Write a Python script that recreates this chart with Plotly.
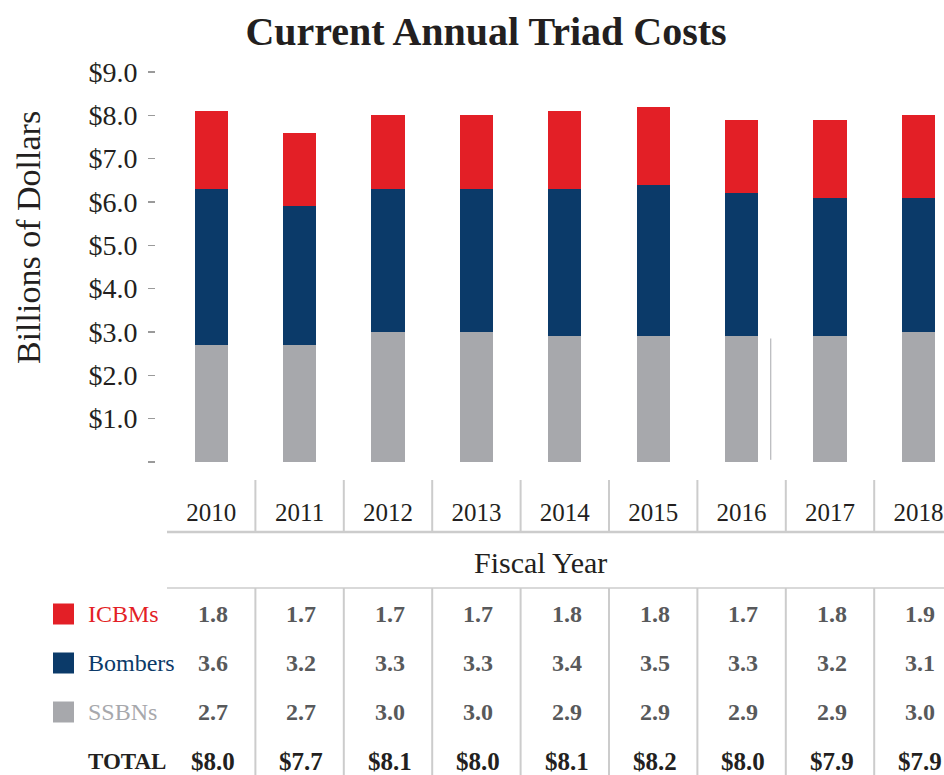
import plotly.graph_objects as go

# ---------------- data ----------------
years = ["2010", "2011", "2012", "2013", "2014", "2015", "2016", "2017", "2018"]
icbms = [1.8, 1.7, 1.7, 1.7, 1.8, 1.8, 1.7, 1.8, 1.9]
bombers = [3.6, 3.2, 3.3, 3.3, 3.4, 3.5, 3.3, 3.2, 3.1]
ssbns = [2.7, 2.7, 3.0, 3.0, 2.9, 2.9, 2.9, 2.9, 3.0]
totals = [8.0, 7.7, 8.1, 8.0, 8.1, 8.2, 8.0, 7.9, 7.9]
y_ticks = [0, 1, 2, 3, 4, 5, 6, 7, 8, 9]
y_ticktext = ["", "$1.0", "$2.0", "$3.0", "$4.0", "$5.0", "$6.0", "$7.0", "$8.0", "$9.0"]

series = [
    ("SSBNs", ssbns, "#a7a8ac"),
    ("Bombers", bombers, "#0b3a69"),
    ("ICBMs", icbms, "#e31f26"),
]

# ---------------- layout geometry (pixels) ----------------
W, H = 944, 775
L = 155          # y-axis line position
T = 60           # top of plot area
B = 462          # zero line
X0 = 167         # left edge of bar area
COL = 88.4       # pixel width of one category

FONT = "Liberation Serif"
DARK = "#231f20"
VALC = "#58595b"
SEP = "#cccccc"


def px(xpix):
    return (xpix - L) / (W - L)


def py(ypix):
    return (B - ypix) / (B - T)


x_hi = -0.5 + (W - X0) / COL
y_hi = (B - T) / ((B - 72) / 9.0)
xs = list(range(len(years)))

fig = go.Figure()
for name, vals, col in series:
    fig.add_trace(go.Bar(
        x=xs, y=vals, name=name, marker=dict(color=col, line=dict(width=0)),
        width=0.375, showlegend=False, hoverinfo="skip",
    ))

shapes = []
annotations = []

# thin gray stray line seen in the original between 2016 and 2017
shapes.append(dict(type="line", xref="x", yref="y", x0=6.33, x1=6.33, y0=0.05, y1=2.85,
                   line=dict(color="#a7a8ac", width=1)))

# column separators (year row and table rows)
for i in range(len(years) - 1):
    xd = i + 0.5
    shapes.append(dict(type="line", xref="x", yref="paper", x0=xd, x1=xd,
                       y0=py(480), y1=py(532), line=dict(color=SEP, width=2)))
    shapes.append(dict(type="line", xref="x", yref="paper", x0=xd, x1=xd,
                       y0=py(588), y1=py(H + 5), line=dict(color=SEP, width=2)))

# horizontal rules
shapes.append(dict(type="line", xref="paper", yref="paper", x0=px(X0), x1=1.0,
                   y0=py(532), y1=py(532), line=dict(color=SEP, width=2.5)))
shapes.append(dict(type="line", xref="paper", yref="paper", x0=px(X0), x1=1.0,
                   y0=py(588), y1=py(588), line=dict(color=SEP, width=1.5)))

# Fiscal Year label
annotations.append(dict(text="Fiscal Year", xref="paper", yref="paper", x=px(540), y=py(562),
                        xanchor="center", yanchor="middle", showarrow=False,
                        font=dict(family=FONT, size=30, color=DARK)))

# Y-axis title
annotations.append(dict(text="Billions of Dollars", xref="paper", yref="paper", x=px(28), y=py(238),
                        xanchor="center", yanchor="middle", showarrow=False, textangle=-90,
                        font=dict(family=FONT, size=34, color=DARK)))

# Table rows: legend swatches, labels, values
row_y = {"ICBMs": 614, "Bombers": 663, "SSBNs": 712}
row_vals = {"ICBMs": icbms, "Bombers": bombers, "SSBNs": ssbns}
row_col = {"ICBMs": "#e31f26", "Bombers": "#0b3a69", "SSBNs": "#a7a8ac"}
for name in ["ICBMs", "Bombers", "SSBNs"]:
    yc = row_y[name]
    shapes.append(dict(type="rect", xref="paper", yref="paper", x0=px(53), x1=px(74),
                       y0=py(yc - 10.5), y1=py(yc + 10.5),
                       fillcolor=row_col[name], line=dict(width=0)))
    annotations.append(dict(text=name, xref="paper", yref="paper", x=px(86), y=py(yc),
                            xanchor="left", yanchor="middle", showarrow=False,
                            font=dict(family=FONT, size=24, color=row_col[name])))
    for i, v in enumerate(row_vals[name]):
        annotations.append(dict(text=f"{v:.1f}", xref="x", yref="paper", x=i + 0.02, y=py(yc),
                                xanchor="center", yanchor="middle", showarrow=False,
                                font=dict(family=FONT, size=24, color=VALC, weight="bold")))

annotations.append(dict(text="TOTAL", xref="paper", yref="paper", x=px(86), y=py(761),
                        xanchor="left", yanchor="middle", showarrow=False,
                        font=dict(family=FONT, size=23, color=DARK, weight="bold")))
for i, v in enumerate(totals):
    annotations.append(dict(text=f"${v:.1f}", xref="x", yref="paper", x=i + 0.02, y=py(761),
                            xanchor="center", yanchor="middle", showarrow=False,
                            font=dict(family=FONT, size=25, color=DARK, weight="bold")))

fig.update_layout(
    width=W, height=H,
    margin=dict(l=L, r=0, t=T, b=H - B, pad=0),
    paper_bgcolor="white", plot_bgcolor="white",
    barmode="stack", bargap=0,
    title=dict(text="Current Annual Triad Costs", x=486 / W, y=1 - 31 / H,
               xanchor="center", yanchor="middle",
               font=dict(family=FONT, size=40, color=DARK, weight="bold")),
    xaxis=dict(domain=[px(X0), 1.0], range=[-0.5, x_hi], tickvals=xs, ticktext=years,
               showgrid=False, zeroline=False, showline=False, ticks="",
               ticklabelstandoff=33,
               tickfont=dict(family=FONT, size=25, color=DARK), fixedrange=True),
    yaxis=dict(anchor="free", position=0, range=[0, y_hi], tickvals=y_ticks, ticktext=y_ticktext,
               showgrid=False, zeroline=False, showline=False,
               ticks="outside", ticklen=7, tickwidth=1.2, tickcolor="#9a9a9a",
               ticklabelstandoff=5,
               tickfont=dict(family=FONT, size=28, color=DARK), fixedrange=True),
    shapes=shapes,
    annotations=annotations,
)

fig.write_html(
    "out.html",
    config={"displayModeBar": False, "staticPlot": True},
    post_script="document.body.style.margin='0';document.body.style.overflow='hidden';",
)
